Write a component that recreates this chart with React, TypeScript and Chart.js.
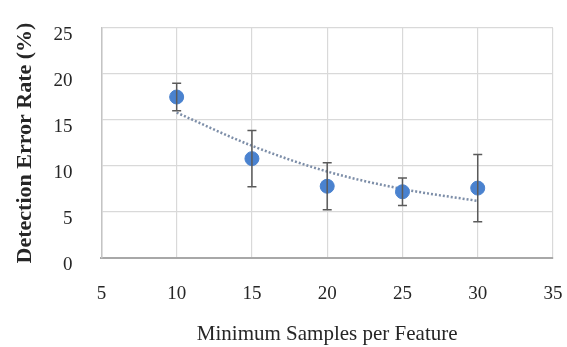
import React, { useEffect, useRef } from "react";
import { Chart, registerables } from "chart.js";

Chart.register(...registerables);

const samples = [10, 15, 20, 25, 30];
const errorRate = [17.5, 10.8, 7.8, 7.2, 7.6];
const errorMargin = [1.5, 3.05, 2.55, 1.5, 3.65];
const trendValues = [15.8, 12.2, 9.4, 7.5, 6.2];
const xTicks = [5, 10, 15, 20, 25, 30, 35];
const yTicks = [0, 5, 10, 15, 20, 25];

const FONT = "'Liberation Serif', 'Times New Roman', serif";

const errorBarPlugin = {
  id: "errorBars",
  afterDatasetsDraw(chart: any) {
    const meta = chart.getDatasetMeta(1);
    if (!meta || meta.hidden) return;
    const xs = chart.scales.x;
    const ys = chart.scales.y;
    const ctx = chart.ctx;
    ctx.save();
    ctx.strokeStyle = "#5a5a5a";
    ctx.lineWidth = 1.5;
    samples.forEach((s, i) => {
      const px = xs.getPixelForValue(s);
      const top = ys.getPixelForValue(errorRate[i] + errorMargin[i]);
      const bot = ys.getPixelForValue(errorRate[i] - errorMargin[i]);
      ctx.beginPath();
      ctx.moveTo(px, top);
      ctx.lineTo(px, bot);
      ctx.moveTo(px - 4.5, top);
      ctx.lineTo(px + 4.5, top);
      ctx.moveTo(px - 4.5, bot);
      ctx.lineTo(px + 4.5, bot);
      ctx.stroke();
    });
    ctx.restore();
  },
};

export default function App() {
  const ref = useRef<HTMLCanvasElement | null>(null);
  useEffect(() => {
    if (!ref.current) return;
    const chart = new Chart(ref.current, {
      type: "scatter",
      data: {
        datasets: [
          {
            type: "line",
            label: "Trend",
            data: samples.map((s, i) => ({ x: s, y: trendValues[i] })),
            borderColor: "#7d8ea8",
            borderWidth: 2.5,
            borderDash: [2, 2],
            pointRadius: 0,
            fill: false,
            cubicInterpolationMode: "monotone",
            order: 2,
          } as any,
          {
            label: "Detection Error Rate",
            data: samples.map((s, i) => ({ x: s, y: errorRate[i] })),
            backgroundColor: "#4a82cf",
            borderColor: "#4a82cf",
            pointRadius: 7,
            order: 1,
          },
        ],
      },
      plugins: [errorBarPlugin],
      options: {
        animation: false,
        responsive: false,
        layout: { padding: { left: 0, right: 14, top: 28, bottom: 0 } },
        plugins: { legend: { display: false }, tooltip: { enabled: false } },
        scales: {
          x: {
            type: "linear",
            min: 5,
            max: 35,
            afterBuildTicks: (axis: any) => {
              axis.ticks = xTicks.map((v) => ({ value: v }));
            },
            grid: {
              color: "#d9d9d9",
              lineWidth: 1.2,
              drawTicks: true,
              tickLength: 23,
              tickColor: "rgba(0,0,0,0)",
            },
            border: { color: "#a8a8a8", width: 2 },
            ticks: {
              padding: 2,
              color: "#262626",
              font: { family: FONT, size: 19 },
            },
            title: {
              display: true,
              text: "Minimum Samples per Feature",
              color: "#262626",
              font: { family: FONT, size: 21 },
              padding: { top: 14, bottom: 0 },
            },
          },
          y: {
            type: "linear",
            min: 0,
            max: 25,
            afterBuildTicks: (axis: any) => {
              axis.ticks = yTicks.map((v) => ({ value: v }));
            },
            grid: {
              color: "#d9d9d9",
              lineWidth: 1.2,
              drawTicks: true,
              tickLength: 27,
              tickColor: "rgba(0,0,0,0)",
            },
            border: { color: "#c4c4c4", width: 1.5 },
            ticks: {
              padding: 2,
              labelOffset: 7,
              color: "#262626",
              font: { family: FONT, size: 19 },
            },
            title: {
              display: true,
              text: "Detection Error Rate (%)",
              color: "#262626",
              font: { family: FONT, size: 22, weight: "bold" },
              padding: { top: 12, bottom: 13 },
            },
          },
        },
      },
    });
    return () => chart.destroy();
  }, []);
  return (
    <div style={{ position: "absolute", left: 0, top: 0, width: 567, height: 347, background: "#fff" }}>
      <canvas ref={ref} width={567} height={347} />
    </div>
  );
}
